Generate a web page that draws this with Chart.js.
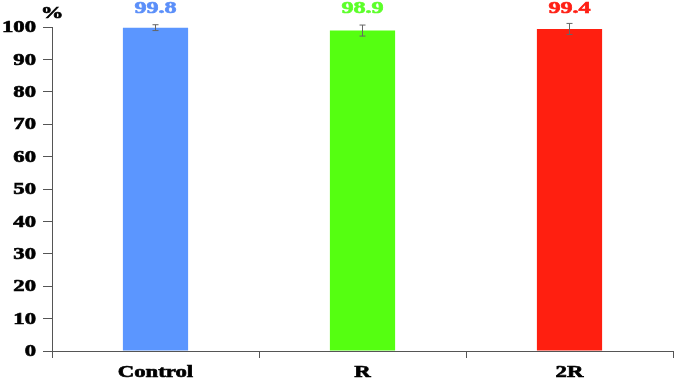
<!DOCTYPE html>
<html>
<head>
<meta charset="utf-8">
<script src="https://cdn.jsdelivr.net/npm/chart.js@4"></script>
<style>
  html, body { margin: 0; padding: 0; background: #fff; }
  #wrap { width: 675px; height: 381px; }
</style>
</head>
<body>
<div id="wrap"><canvas id="barChart" width="675" height="381"></canvas></div>
<script>
const categories = ['Control', 'R', '2R'];
const values = [99.8, 98.9, 99.4];
const errors = [0.9, 1.7, 1.7];
const barColors = ['#5b96ff', '#55ff11', '#ff1f10'];
const labelColors = ['#5b8ff9', '#5cff2a', '#ff2015'];
const yTicks = [0, 10, 20, 30, 40, 50, 60, 70, 80, 90, 100];

const serif = '"Liberation Serif", "Times New Roman", serif';
const STRETCH = 1.42; // the original text is a wide bold serif

function wideText(ctx, text, x, y, align, size, color) {
  ctx.save();
  ctx.font = 'bold ' + size + 'px ' + serif;
  ctx.fillStyle = color;
  ctx.strokeStyle = color;
  ctx.lineWidth = 0.6;
  ctx.textAlign = align;
  ctx.textBaseline = 'middle';
  ctx.translate(x, y);
  ctx.scale(STRETCH, 1);
  ctx.fillText(text, 0, 0);
  ctx.strokeText(text, 0, 0);
  ctx.restore();
}

// tick labels, error bars, value labels and the "%" unit
const extras = {
  id: 'extras',
  afterDraw(chart) {
    const ctx = chart.ctx;
    const x = chart.scales.x;
    const y = chart.scales.y;

    yTicks.forEach(v => wideText(ctx, String(v), 36, y.getPixelForValue(v) + 1, 'right', 16, '#000'));
    categories.forEach((c, i) => wideText(ctx, c, x.getPixelForValue(i), 373, 'center', 16, '#000'));

    const meta = chart.getDatasetMeta(0);
    meta.data.forEach((bar, i) => {
      const top = y.getPixelForValue(values[i] + errors[i]);
      const bot = y.getPixelForValue(values[i] - errors[i]);
      ctx.save();
      ctx.strokeStyle = '#666';
      ctx.lineWidth = 1;
      ctx.beginPath();
      ctx.moveTo(bar.x, top); ctx.lineTo(bar.x, bot);
      ctx.moveTo(bar.x - 3, top); ctx.lineTo(bar.x + 3, top);
      ctx.moveTo(bar.x - 3, bot); ctx.lineTo(bar.x + 3, bot);
      ctx.stroke();
      ctx.restore();
      wideText(ctx, values[i].toFixed(1), bar.x, 9, 'center', 17, labelColors[i]);
    });
    wideText(ctx, '%', 52, 14, 'center', 16, '#000');
  }
};

new Chart(document.getElementById('barChart'), {
  type: 'bar',
  data: {
    labels: categories,
    datasets: [{
      data: values,
      backgroundColor: barColors,
      borderWidth: 0,
      categoryPercentage: 1,
      barPercentage: 0.315
    }]
  },
  options: {
    responsive: false,
    animation: false,
    layout: { padding: { top: 27, right: 2, left: 0, bottom: 0 } },
    plugins: { legend: { display: false }, tooltip: { enabled: false } },
    scales: {
      x: {
        grid: { display: true, offset: true, drawOnChartArea: false, tickLength: 7, color: '#555' },
        border: { color: '#555', width: 1 },
        ticks: { display: false },
        afterFit(scale) { scale.height = 30; }
      },
      y: {
        min: 0,
        max: 100,
        afterBuildTicks(scale) { scale.ticks = yTicks.map(v => ({ value: v })); },
        grid: { display: true, drawOnChartArea: false, tickLength: 9, color: '#555' },
        border: { color: '#555', width: 1 },
        ticks: { display: false },
        afterFit(scale) { scale.width = 52; }
      }
    }
  },
  plugins: [extras]
});
</script>
</body>
</html>
